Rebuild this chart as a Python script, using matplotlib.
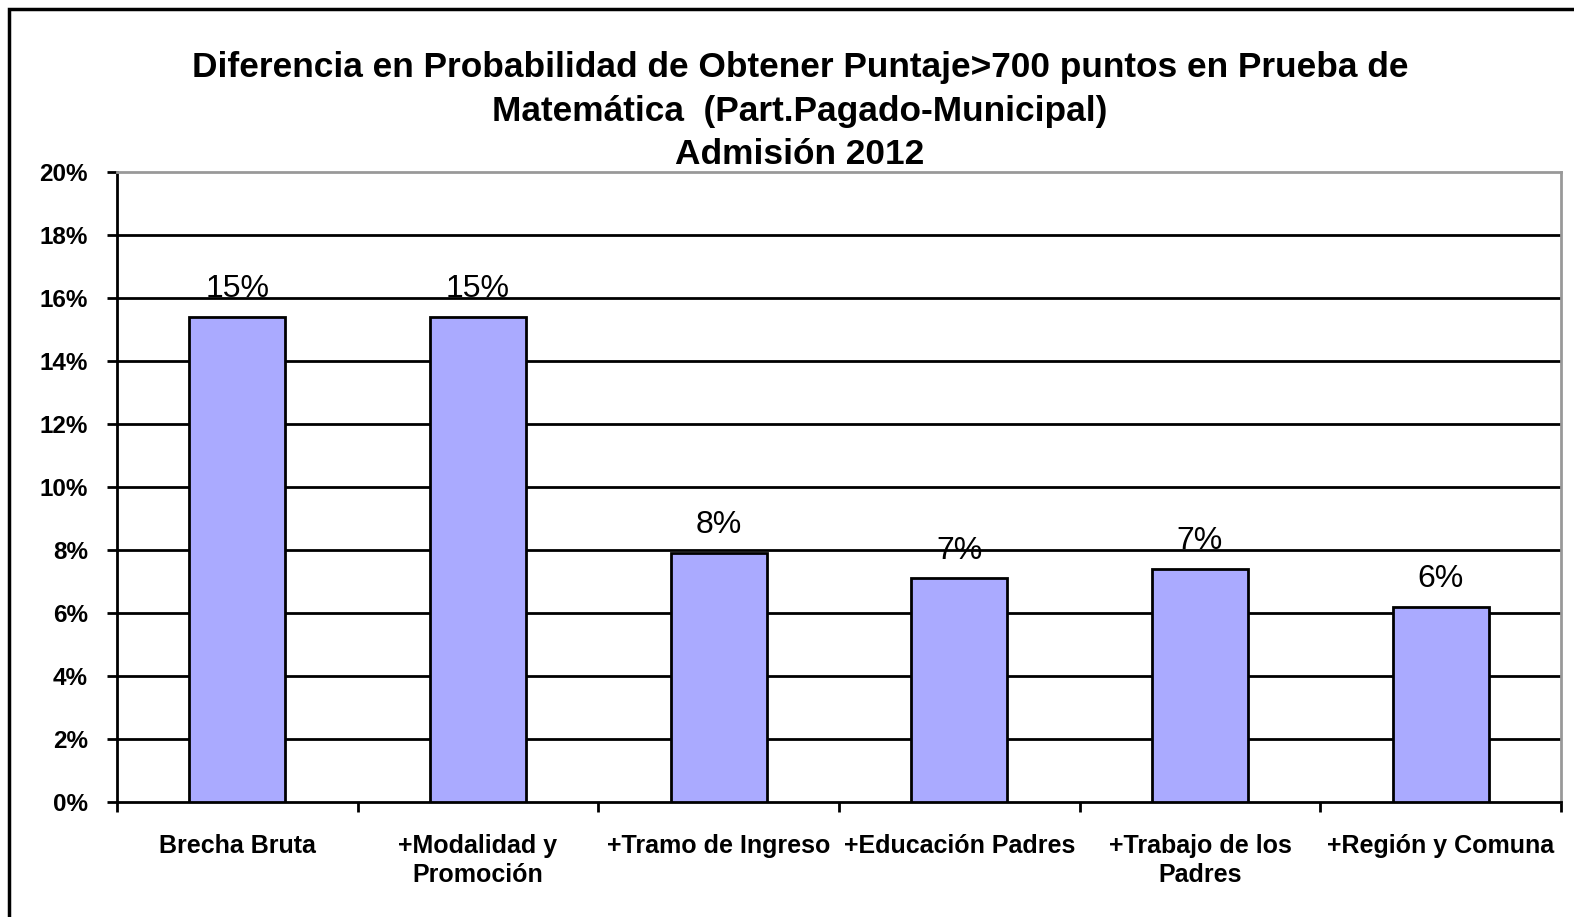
import matplotlib.pyplot as plt
import matplotlib.patches as mpatches
import numpy as np

plt.rcParams['font.family'] = ['Liberation Sans', 'DejaVu Sans']

categorias = ['Brecha Bruta', '+Modalidad y\nPromoción', '+Tramo de Ingreso',
              '+Educación Padres', '+Trabajo de los\nPadres', '+Región y Comuna']
valores = [0.154, 0.154, 0.079, 0.071, 0.074, 0.062]
etiquetas = ['15%', '15%', '8%', '7%', '7%', '6%']
yticks = [0.0, 0.02, 0.04, 0.06, 0.08, 0.10, 0.12, 0.14, 0.16, 0.18, 0.20]

W, H = 1574, 917
fig = plt.figure(figsize=(W / 100, H / 100), dpi=100)
ax = fig.add_axes([117 / W, 1 - 802 / H, (1561 - 117) / W, (802 - 172) / H])

x = np.arange(len(categorias))
ax.bar(x, valores, width=0.4, color='#aaaaff', edgecolor='black', linewidth=2, zorder=3)

# lineas de grilla (sobre las etiquetas, bajo las barras)
for yv in yticks[1:-1]:
    ax.axhline(yv, color='black', linewidth=2, zorder=2.5)

for xi, v, t in zip(x, valores, etiquetas):
    ax.annotate(t, (xi, v), xytext=(0, 20), textcoords='offset points',
                ha='center', va='center', fontsize=23, zorder=2)

ax.set_xlim(-0.5, len(categorias) - 0.5)
ax.set_ylim(0, 0.20)
ax.set_yticks(yticks)
ax.set_yticklabels([f'{int(round(v * 100))}%' for v in yticks], fontsize=17.5, fontweight='bold')
ax.tick_params(axis='y', length=7, width=2, pad=14)

ax.set_xticks(x)
ax.set_xticklabels(categorias, fontsize=18, fontweight='bold', linespacing=1.25)
ax.tick_params(axis='x', which='major', length=0, pad=23)
ax.set_xticks(np.arange(-0.5, len(categorias)), minor=True)
ax.tick_params(axis='x', which='minor', length=7, width=2)

for s in ['left', 'bottom']:
    ax.spines[s].set_linewidth(2)
    ax.spines[s].set_color('black')
for s in ['top', 'right']:
    ax.spines[s].set_linewidth(2)
    ax.spines[s].set_color('#999999')

fig.text(800 / W, 1 - 111 / H,
         'Diferencia en Probabilidad de Obtener Puntaje>700 puntos en Prueba de\n'
         'Matemática  (Part.Pagado-Municipal)\nAdmisión 2012',
         ha='center', va='center', fontsize=25.4, fontweight='bold', linespacing=1.4)

# marco exterior
marco = mpatches.Rectangle((9 / W, -0.1), 1.2, 1 - 9 / H + 0.1, transform=fig.transFigure,
                           fill=False, edgecolor='black', linewidth=2.5, clip_on=False)
fig.patches.append(marco)

fig.savefig('out.png', dpi=100)
